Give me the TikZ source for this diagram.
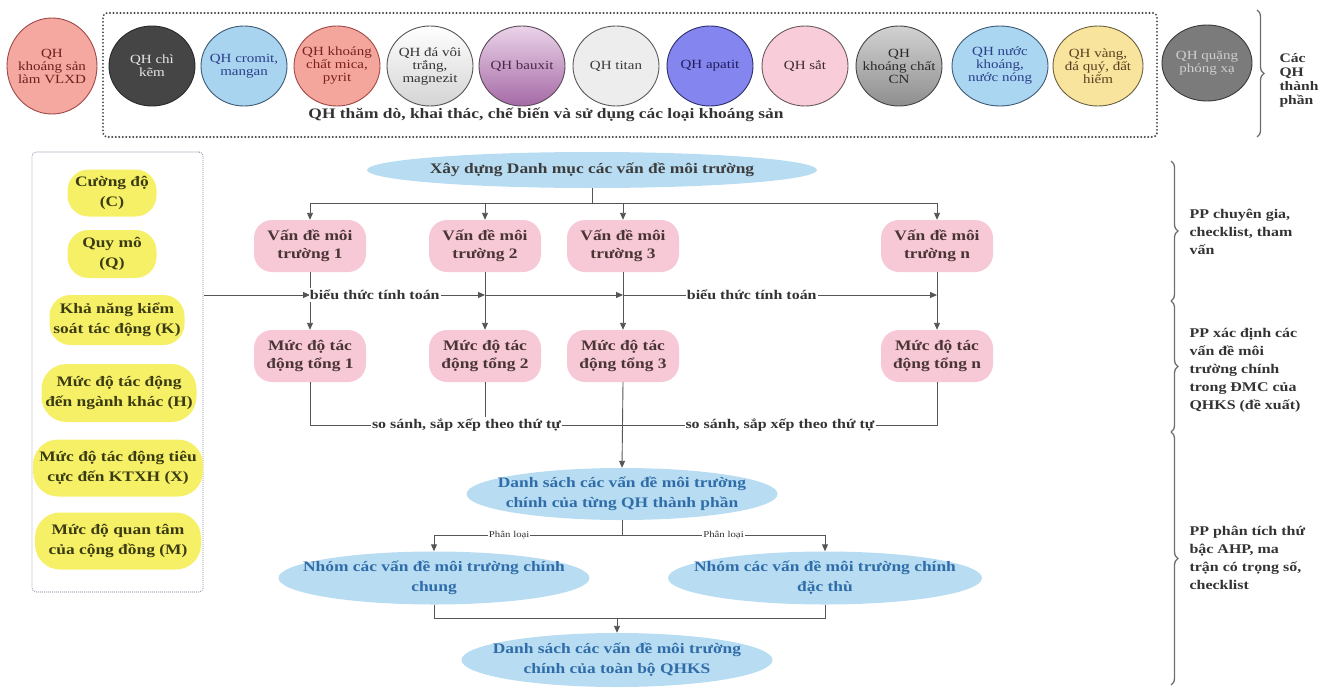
\documentclass[tikz,border=0pt]{standalone}
\usepackage{fontspec}
\setmainfont{Liberation Serif}[FakeStretch=1.2]
\usetikzlibrary{shapes.geometric,arrows.meta,decorations.pathreplacing,calc}
\definecolor{ln}{HTML}{555555}
\definecolor{dotc}{HTML}{454545}
\definecolor{ldotc}{HTML}{8C8CA6}
\definecolor{pinkc}{HTML}{F7C8D6}
\definecolor{pinktxt}{HTML}{4A3535}
\definecolor{yel}{HTML}{F6F067}
\definecolor{yeltxt}{HTML}{3B3B12}
\definecolor{bluec}{HTML}{B8DDF3}
\definecolor{bluetxt}{HTML}{2F6CA8}
\definecolor{toptxt}{HTML}{3C3C3C}
\definecolor{labtxt}{HTML}{333333}
\definecolor{brc}{HTML}{6E6E6E}
% circle colours
\definecolor{cAf}{HTML}{F4A89F}\definecolor{cAd}{HTML}{A04848}\definecolor{cAt}{HTML}{6B1F1F}
\definecolor{cBf}{HTML}{454545}\definecolor{cBd}{HTML}{2A2A2A}\definecolor{cBt}{HTML}{E8E8E8}
\definecolor{cCf}{HTML}{A9D4F0}\definecolor{cCd}{HTML}{3D5A75}\definecolor{cCt}{HTML}{2A3F8A}
\definecolor{cDf}{HTML}{F4A69C}\definecolor{cDt}{HTML}{7A2020}
\definecolor{cEb}{HTML}{D4D4D4}\definecolor{cEd}{HTML}{555555}\definecolor{cEt}{HTML}{333333}
\definecolor{cFa}{HTML}{EBD3E9}\definecolor{cFb}{HTML}{A56AA6}\definecolor{cFd}{HTML}{5A4A5A}\definecolor{cFt}{HTML}{4A2A4A}
\definecolor{cGf}{HTML}{EDEDED}\definecolor{cGd}{HTML}{5A5A5A}\definecolor{cGt}{HTML}{3A3A3A}
\definecolor{cHf}{HTML}{8585F0}\definecolor{cHd}{HTML}{2D2D70}\definecolor{cHt}{HTML}{1E1E5A}
\definecolor{cIf}{HTML}{F9CCDA}\definecolor{cId}{HTML}{6A5A5A}\definecolor{cIt}{HTML}{3A2A2A}
\definecolor{cJa}{HTML}{D2D2D2}\definecolor{cJb}{HTML}{8E8E8E}\definecolor{cJd}{HTML}{444444}\definecolor{cJt}{HTML}{2A2A2A}
\definecolor{cKf}{HTML}{AAD6F1}
\definecolor{cLf}{HTML}{F8E49C}\definecolor{cLd}{HTML}{6A6040}\definecolor{cLt}{HTML}{5A4020}
\definecolor{cMf}{HTML}{7B7B7B}\definecolor{cMd}{HTML}{3A3A3A}\definecolor{cMt}{HTML}{CFCFCF}
\newcommand{\myfB}{\fontsize{14.5}{18}\selectfont\bfseries}
\newcommand{\myfP}{\fontsize{14.5}{19.5}\selectfont\bfseries}
\newcommand{\myfE}{\fontsize{14.5}{20}\selectfont\bfseries}
\newcommand{\myfL}{\fontsize{13.3}{13.3}\selectfont\bfseries}
\newcommand{\myfR}{\fontsize{13.3}{18}\selectfont\bfseries}
\newcommand{\myfC}{\fontsize{12.5}{13}\selectfont}
\newcommand{\myfS}{\fontsize{9}{9}\selectfont}
\begin{document}
\begin{tikzpicture}[x=1pt,y=-1pt,
  line/.style={draw=ln, line width=0.9pt},
  arr/.style={line, -{Triangle[length=7pt,width=6pt]}},
  qh/.style={ellipse, line width=0.9pt, minimum width=86pt, minimum height=80pt,
    inner xsep=-14pt, inner ysep=0pt, align=center, font=\myfC},
  pinkbox/.style={rectangle, rounded corners=18pt, fill=pinkc, minimum width=112pt,
    minimum height=52pt, inner sep=1pt, align=center, font=\myfB, text=pinktxt},
  pill/.style={rectangle, rounded corners=21pt, fill=yel, inner sep=1pt,
    align=center, font=\myfP, text=yeltxt},
  bell/.style={ellipse, fill=bluec, inner xsep=-60pt, inner ysep=-6pt,
    align=center, font=\myfE, text=bluetxt},
  lab/.style={fill=white, inner xsep=1pt, inner ysep=2pt, font=\myfL, text=labtxt},
  plab/.style={fill=white, inner xsep=1pt, inner ysep=1pt, font=\myfS, text=labtxt},
  rtext/.style={anchor=west, align=left, font=\myfR, text=labtxt},
  brc/.style={draw=brc, line width=1.3pt, decorate, decoration={brace, amplitude=7pt}},
  topbox/.style={draw=dotc, line width=2.1pt, dash pattern=on 0pt off 3.5pt,
    line cap=round, rounded corners=4pt},
  leftbox/.style={draw=ldotc, line width=1.2pt, dash pattern=on 0pt off 2pt,
    line cap=round, rounded corners=4pt}
]
\useasboundingbox (0,0) rectangle (1322,688);

% ---------- top row ----------
\node[topbox, minimum width=1054pt, minimum height=124pt] (tb) at (630,75) {};
\node[qh, minimum width=90pt, minimum height=96pt, fill=cAf, draw=cAd, text=cAt] (q1) at (52,66) {QH\\khoáng sản\\làm VLXD};
\node[qh, fill=cBf, draw=cBd, text=cBt] (q2) at (152,66) {QH chì\\kẽm};
\node[qh, fill=cCf, draw=cCd, text=cCt] (q3) at (244,66) {QH cromit,\\mangan};
\node[qh, fill=cDf, draw=cAd, text=cDt] (q4) at (337,66) {QH khoáng\\chất mica,\\pyrit};
\node[qh, top color=white, bottom color=cEb, draw=cEd, text=cEt] (q5) at (430,66) {QH đá vôi\\trắng,\\magnezit};
\node[qh, top color=cFa, bottom color=cFb, draw=cFd, text=cFt] (q6) at (522,66) {QH bauxit};
\node[qh, fill=cGf, draw=cGd, text=cGt] (q7) at (616,66) {QH titan};
\node[qh, fill=cHf, draw=cHd, text=cHt] (q8) at (710,66) {QH apatit};
\node[qh, fill=cIf, draw=cId, text=cIt] (q9) at (805,66) {QH sắt};
\node[qh, top color=cJa, bottom color=cJb, draw=cJd, text=cJt] (q10) at (899,66) {QH\\khoáng chất\\CN};
\node[qh, minimum width=96pt, fill=cKf, draw=cCd, text=cCt] (q11) at (1000,66) {QH nước\\khoáng,\\nước nóng};
\node[qh, minimum width=90pt, fill=cLf, draw=cLd, text=cLt] (q12) at (1098,66) {QH vàng,\\đá quý, đất\\hiếm};
\node[qh, minimum width=90pt, minimum height=76pt, fill=cMf, draw=cMd, text=cMt] (q13) at (1207,63) {QH quặng\\phóng xạ};
\node[font=\myfB, text=labtxt] (tt) at (546,115) {QH thăm dò, khai thác, chế biến và sử dụng các loại khoáng sản};
\draw[brc] (1257,10) -- (1257,137);
\node[anchor=west, align=left, font=\fontsize{13}{14}\selectfont\bfseries, text=labtxt] (cqh) at (1276,80) {Các\\QH\\thành\\phần};

% ---------- left panel ----------
\node[leftbox, minimum width=171pt, minimum height=440pt] (lp) at (117.5,372) {};
\node[pill, minimum width=89pt, minimum height=47pt] (pc) at (112,193) {Cường độ\\(C)};
\node[pill, minimum width=89pt, minimum height=48pt] (pq) at (112,254) {Quy mô\\(Q)};
\node[pill, minimum width=135pt, minimum height=50pt] (pk) at (117,320) {Khả năng kiểm\\soát tác động (K)};
\node[pill, minimum width=155pt, minimum height=58pt, rounded corners=25pt] (ph) at (119,393) {Mức độ tác động\\đến ngành khác (H)};
\node[pill, minimum width=170pt, minimum height=57pt, rounded corners=25pt] (px) at (118,468) {Mức độ tác động tiêu\\cực đến KTXH (X)};
\node[pill, minimum width=166pt, minimum height=57pt, rounded corners=25pt] (pm) at (118,541) {Mức độ quan tâm\\của cộng đồng (M)};

% ---------- flowchart ----------
\node[bell, minimum width=450pt, minimum height=36pt, text=toptxt] (top) at (592,170) {Xây dựng Danh mục các vấn đề môi trường};
\node[pinkbox] (v1) at (310,246) {Vấn đề môi\\trường 1};
\node[pinkbox] (v2) at (485,246) {Vấn đề môi\\trường 2};
\node[pinkbox] (v3) at (623,246) {Vấn đề môi\\trường 3};
\node[pinkbox] (vn) at (937,246) {Vấn đề môi\\trường n};
\node[pinkbox] (m1) at (310,356) {Mức độ tác\\động tổng 1};
\node[pinkbox] (m2) at (485,356) {Mức độ tác\\động tổng 2};
\node[pinkbox] (m3) at (623,356) {Mức độ tác\\động tổng 3};
\node[pinkbox] (mn) at (937,356) {Mức độ tác\\động tổng n};
\node[bell, minimum width=311pt, minimum height=52pt] (ds1) at (622,494) {Danh sách các vấn đề môi trường\\chính của từng QH thành phần};
\node[bell, minimum width=311pt, minimum height=53pt] (nc) at (434,578) {Nhóm các vấn đề môi trường chính\\chung};
\node[bell, minimum width=314pt, minimum height=53pt] (nd) at (825,578) {Nhóm các vấn đề môi trường chính\\đặc thù};
\node[bell, minimum width=311pt, minimum height=54pt] (ds2) at (617,660) {Danh sách các vấn đề môi trường\\chính của toàn bộ QHKS};

\coordinate (ty) at (0,203);
\coordinate (hy) at (0,295);
\coordinate (sy) at (0,425);
\coordinate (py) at (0,535);
\coordinate (by) at (0,618);

% from top ellipse to the four issues
\draw[line] (top.south) -- (top.south |- ty);
\draw[line] (v1 |- ty) -- (vn |- ty);
\draw[arr] (v1 |- ty) -- (v1.north);
\draw[arr] (v2 |- ty) -- (v2.north);
\draw[arr] (v3 |- ty) -- (v3.north);
\draw[arr] (vn |- ty) -- (vn.north);

% issues to impact levels
\draw[arr] (v1.south) -- (m1.north);
\draw[arr] (v2.south) -- (m2.north);
\draw[arr] (v3.south) -- (m3.north);
\draw[arr] (vn.south) -- (mn.north);

% criteria panel feeding the calculation
\draw[arr] (lp.east |- hy) -- (v1 |- hy);
\draw[arr] (v1 |- hy) -- node[lab, pos=0.37] {biểu thức tính toán} (v2 |- hy);
\draw[arr] (v2 |- hy) -- (v3 |- hy);
\draw[arr] (v3 |- hy) -- node[lab, pos=0.41] {biểu thức tính toán} (vn |- hy);

% comparison
\draw[line] (m2.south) -- (m2 |- sy);
\draw[line] (m1.south) |- node[lab, pos=0.75] {so sánh, sắp xếp theo thứ tự} (m3 |- sy);
\draw[line] (mn.south) |- node[lab, pos=0.75] {so sánh, sắp xếp theo thứ tự} (m3 |- sy);
\draw[arr] (m3.south) -- (ds1.north);

% classification
\draw[line] (ds1.south) -- (ds1.south |- py);
\draw[arr] (ds1.south |- py) -| node[plab, pos=0.3] {Phân loại} (nc.north);
\draw[arr] (ds1.south |- py) -| node[plab, pos=0.25] {Phân loại} (nd.north);

% merge
\draw[line] (nc.south) |- (ds2.north |- by);
\draw[line] (nd.south) |- (ds2.north |- by);
\draw[arr] (ds2.north |- by) -- (ds2.north);

% ---------- right braces ----------
\draw[brc] (1171,161) -- (1171,301);
\draw[brc] (1171,301) -- (1171,432);
\draw[brc] (1171,432) -- (1171,685);
\node[rtext] (r1) at (1186,232) {PP chuyên gia,\\checklist, tham\\vấn};
\node[rtext] (r2) at (1186,370) {PP xác định các\\vấn đề môi\\trường chính\\trong ĐMC của\\QHKS (đề xuất)};
\node[rtext] (r3) at (1186,558) {PP phân tích thứ\\bậc AHP, ma\\trận có trọng số,\\checklist};
\end{tikzpicture}
\end{document}
